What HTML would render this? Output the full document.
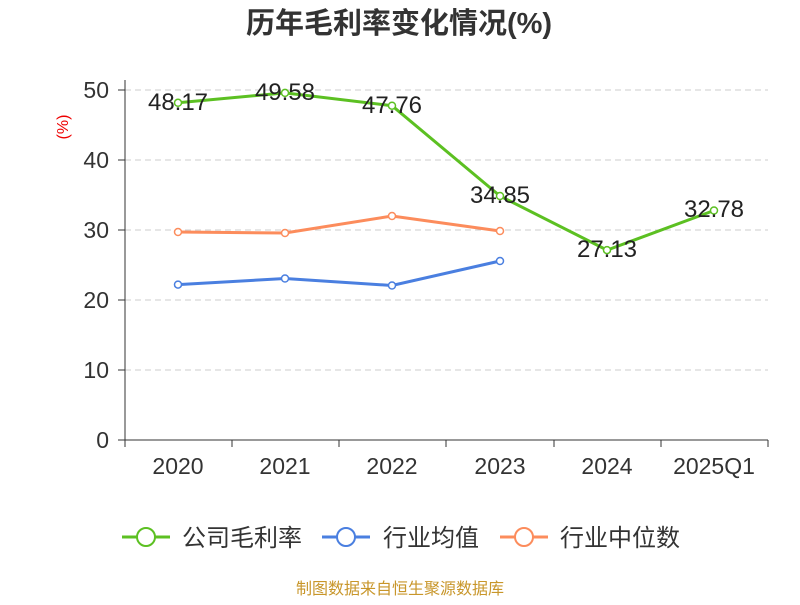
<!DOCTYPE html>
<html><head><meta charset="utf-8"><style>
body{margin:0;background:#fff;}
svg text{font-family:"Liberation Sans","Noto Sans CJK SC",sans-serif;}
</style></head><body>
<svg width="800" height="600" xmlns="http://www.w3.org/2000/svg">
<rect width="800" height="600" fill="#fff"/>
<text x="399" y="33" text-anchor="middle" font-size="29" font-weight="bold" fill="#333">历年毛利率变化情况(%)</text>
<g stroke="#ccc" stroke-dasharray="6,4" stroke-width="1">
<line x1="125" y1="90" x2="768" y2="90"/><line x1="125" y1="160" x2="768" y2="160"/>
<line x1="125" y1="230" x2="768" y2="230"/><line x1="125" y1="300" x2="768" y2="300"/>
<line x1="125" y1="370" x2="768" y2="370"/>
</g>
<g stroke="#333" stroke-width="1">
<line x1="125" y1="80" x2="125" y2="440"/>
<line x1="125" y1="440" x2="768" y2="440"/>
<line x1="118" y1="90" x2="125" y2="90"/><line x1="118" y1="160" x2="125" y2="160"/><line x1="118" y1="230" x2="125" y2="230"/><line x1="118" y1="300" x2="125" y2="300"/><line x1="118" y1="370" x2="125" y2="370"/><line x1="118" y1="440" x2="125" y2="440"/>
<line x1="125" y1="440" x2="125" y2="447"/><line x1="232" y1="440" x2="232" y2="447"/><line x1="339" y1="440" x2="339" y2="447"/><line x1="446" y1="440" x2="446" y2="447"/><line x1="554" y1="440" x2="554" y2="447"/><line x1="661" y1="440" x2="661" y2="447"/><line x1="768" y1="440" x2="768" y2="447"/>
</g>
<g font-size="23" fill="#333" text-anchor="end">
<text x="109" y="98">50</text><text x="109" y="168">40</text><text x="109" y="238">30</text><text x="109" y="308">20</text><text x="109" y="378">10</text><text x="109" y="448">0</text>
</g>
<text x="68" y="127" font-size="16" fill="#e00" text-anchor="middle" transform="rotate(-90 68 127)">(%)</text>
<g font-size="23" fill="#333" text-anchor="middle">
<text x="178" y="474">2020</text><text x="285" y="474">2021</text><text x="392" y="474">2022</text><text x="500" y="474">2023</text><text x="607" y="474">2024</text><text x="714" y="474">2025Q1</text>
</g>
<polyline points="178,232 285,233 392,216 500,231" fill="none" stroke="#fc8c5c" stroke-width="3"/>
<polyline points="178,284.6 285,278.5 392,285.5 500,261" fill="none" stroke="#4a7fe0" stroke-width="3"/>
<polyline points="178,102.8 285,92.9 392,105.7 500,196 607,250.1 714,210.5" fill="none" stroke="#5cc022" stroke-width="3"/>
<g fill="#fff" stroke-width="1.5">
<g stroke="#fc8c5c"><circle cx="178" cy="232" r="3.5"/><circle cx="285" cy="233" r="3.5"/><circle cx="392" cy="216" r="3.5"/><circle cx="500" cy="231" r="3.5"/></g>
<g stroke="#4a7fe0"><circle cx="178" cy="284.6" r="3.5"/><circle cx="285" cy="278.5" r="3.5"/><circle cx="392" cy="285.5" r="3.5"/><circle cx="500" cy="261" r="3.5"/></g>
<g stroke="#5cc022"><circle cx="178" cy="102.8" r="3.5"/><circle cx="285" cy="92.9" r="3.5"/><circle cx="392" cy="105.7" r="3.5"/><circle cx="500" cy="196" r="3.5"/><circle cx="607" cy="250.1" r="3.5"/><circle cx="714" cy="210.5" r="3.5"/></g>
</g>
<g font-size="24" fill="#222" text-anchor="middle">
<text x="178" y="110">48.17</text><text x="285" y="100">49.58</text><text x="392" y="113">47.76</text><text x="500" y="203">34.85</text><text x="607" y="257">27.13</text><text x="714" y="217">32.78</text>
</g>
<g font-size="24" fill="#333">
<line x1="122" y1="537" x2="170" y2="537" stroke="#5cc022" stroke-width="3"/><circle cx="146" cy="537" r="9" fill="#fff" stroke="#5cc022" stroke-width="2"/>
<text x="182" y="546">公司毛利率</text>
<line x1="322" y1="537" x2="370" y2="537" stroke="#4a7fe0" stroke-width="3"/><circle cx="346" cy="537" r="9" fill="#fff" stroke="#4a7fe0" stroke-width="2"/>
<text x="383" y="546">行业均值</text>
<line x1="500" y1="537" x2="548" y2="537" stroke="#fc8c5c" stroke-width="3"/><circle cx="524" cy="537" r="9" fill="#fff" stroke="#fc8c5c" stroke-width="2"/>
<text x="560" y="546">行业中位数</text>
</g>
<text x="400" y="594" font-size="16" fill="#c8962a" text-anchor="middle">制图数据来自恒生聚源数据库</text>
</svg>
</body></html>
